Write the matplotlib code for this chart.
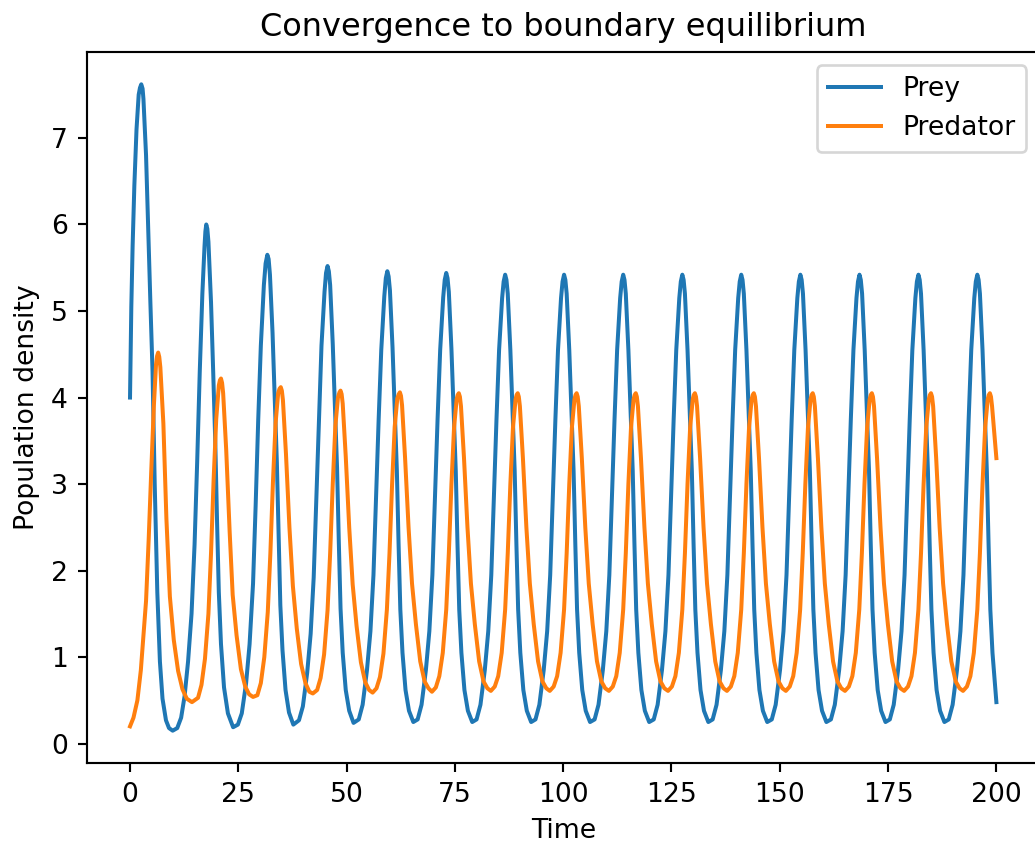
import matplotlib
matplotlib.use("Agg")
import matplotlib.pyplot as plt

# prey curve (time, density), one line per cycle
prey_t = [0.0, 0.3, 0.6, 1.0, 1.5, 2.0, 2.3, 2.6, 2.9, 3.1, 3.7, 4.2, 4.7, 5.2, 5.7, 6.3, 6.9, 7.5, 8.3, 9.0, 9.85,
          10.9, 11.8, 12.6, 13.4, 14.2, 14.9, 15.5, 16.1, 16.7, 17.2, 17.4, 17.6, 17.85, 18.1, 18.7, 19.2, 19.7, 20.1, 20.5, 21.0, 21.7, 22.6, 23.8,
          24.9, 25.8, 26.8, 27.6, 28.4, 29.0, 29.6, 30.2, 30.9, 31.3, 31.7, 32.0, 32.3, 32.9, 33.4, 33.9, 34.3, 34.7, 35.2, 35.9, 36.7, 37.7,
          39.0, 39.9, 40.9, 41.7, 42.4, 43.0, 43.6, 44.2, 44.9, 45.25, 45.6, 45.9, 46.2, 46.8, 47.3, 47.8, 48.2, 48.6, 49.1, 49.8, 50.6, 51.6,
          52.8, 53.7, 54.7, 55.5, 56.2, 56.8, 57.4, 58.0, 58.7, 59.05, 59.4, 59.7, 60.0, 60.6, 61.1, 61.6, 62.0, 62.4, 62.9, 63.6, 64.4, 65.4,
          66.4, 67.3, 68.3, 69.1, 69.8, 70.4, 71.0, 71.6, 72.3, 72.65, 73.0, 73.3, 73.6, 74.2, 74.7, 75.2, 75.6, 76.0, 76.5, 77.2, 78.0, 79.0,
          80.0, 80.9, 81.9, 82.7, 83.4, 84.0, 84.6, 85.2, 85.9, 86.25, 86.6, 86.9, 87.2, 87.8, 88.3, 88.8, 89.2, 89.6, 90.1, 90.8, 91.6, 92.6,
          93.6, 94.5, 95.5, 96.3, 97.0, 97.6, 98.2, 98.8, 99.5, 99.85, 100.2, 100.5, 100.8, 101.4, 101.9, 102.4, 102.8, 103.2, 103.7, 104.4, 105.2, 106.2,
          107.25, 108.15, 109.15, 109.95, 110.65, 111.25, 111.85, 112.45, 113.15, 113.5, 113.85, 114.15, 114.45, 115.05, 115.55, 116.05, 116.45, 116.85, 117.35, 118.05, 118.85, 119.85,
          120.9, 121.8, 122.8, 123.6, 124.3, 124.9, 125.5, 126.1, 126.8, 127.15, 127.5, 127.8, 128.1, 128.7, 129.2, 129.7, 130.1, 130.5, 131.0, 131.7, 132.5, 133.5,
          134.5, 135.4, 136.4, 137.2, 137.9, 138.5, 139.1, 139.7, 140.4, 140.75, 141.1, 141.4, 141.7, 142.3, 142.8, 143.3, 143.7, 144.1, 144.6, 145.3, 146.1, 147.1,
          148.15, 149.05, 150.05, 150.85, 151.55, 152.15, 152.75, 153.35, 154.05, 154.4, 154.75, 155.05, 155.35, 155.95, 156.45, 156.95, 157.35, 157.75, 158.25, 158.95, 159.75, 160.75,
          161.8, 162.7, 163.7, 164.5, 165.2, 165.8, 166.4, 167.0, 167.7, 168.05, 168.4, 168.7, 169.0, 169.6, 170.1, 170.6, 171.0, 171.4, 171.9, 172.6, 173.4, 174.4,
          175.4, 176.3, 177.3, 178.1, 178.8, 179.4, 180.0, 180.6, 181.3, 181.65, 182.0, 182.3, 182.6, 183.2, 183.7, 184.2, 184.6, 185.0, 185.5, 186.2, 187.0, 188.0,
          189.0, 189.9, 190.9, 191.7, 192.4, 193.0, 193.6, 194.2, 194.9, 195.25, 195.6, 195.9, 196.2, 196.8, 197.3, 197.8, 198.2, 198.6, 199.1, 200.0]
prey = [4.0, 5.05, 5.75, 6.45, 7.1, 7.5, 7.58, 7.62, 7.57, 7.45, 6.8, 5.95, 5.1, 4.3, 3.0, 1.75, 0.95, 0.52, 0.27, 0.18, 0.15,
        0.18, 0.3, 0.55, 0.95, 1.5, 2.3, 3.25, 4.3, 5.2, 5.75, 5.92, 6.0, 5.95, 5.8, 5.1, 4.3, 3.45, 2.55, 1.75, 1.15, 0.65, 0.35, 0.19,
        0.22, 0.35, 0.7, 1.15, 1.85, 2.75, 3.75, 4.6, 5.3, 5.55, 5.65, 5.6, 5.42, 4.75, 4.0, 3.25, 2.4, 1.6, 1.08, 0.62, 0.36, 0.22,
        0.27, 0.43, 0.82, 1.27, 1.92, 2.82, 3.75, 4.6, 5.22, 5.44, 5.52, 5.46, 5.3, 4.62, 3.9, 3.18, 2.33, 1.56, 1.05, 0.62, 0.38, 0.24,
        0.28, 0.45, 0.85, 1.3, 1.95, 2.85, 3.75, 4.55, 5.17, 5.38, 5.46, 5.4, 5.24, 4.58, 3.87, 3.16, 2.3, 1.55, 1.05, 0.62, 0.38, 0.25,
        0.28, 0.45, 0.85, 1.3, 1.95, 2.85, 3.75, 4.55, 5.16, 5.36, 5.44, 5.38, 5.22, 4.56, 3.86, 3.15, 2.3, 1.55, 1.05, 0.62, 0.38, 0.25,
        0.28, 0.45, 0.85, 1.3, 1.95, 2.85, 3.75, 4.55, 5.15, 5.34, 5.42, 5.36, 5.2, 4.55, 3.85, 3.15, 2.3, 1.55, 1.05, 0.62, 0.38, 0.25,
        0.28, 0.45, 0.85, 1.3, 1.95, 2.85, 3.75, 4.55, 5.15, 5.34, 5.42, 5.36, 5.2, 4.55, 3.85, 3.15, 2.3, 1.55, 1.05, 0.62, 0.38, 0.25,
        0.28, 0.45, 0.85, 1.3, 1.95, 2.85, 3.75, 4.55, 5.15, 5.34, 5.42, 5.36, 5.2, 4.55, 3.85, 3.15, 2.3, 1.55, 1.05, 0.62, 0.38, 0.25,
        0.28, 0.45, 0.85, 1.3, 1.95, 2.85, 3.75, 4.55, 5.15, 5.34, 5.42, 5.36, 5.2, 4.55, 3.85, 3.15, 2.3, 1.55, 1.05, 0.62, 0.38, 0.25,
        0.28, 0.45, 0.85, 1.3, 1.95, 2.85, 3.75, 4.55, 5.15, 5.34, 5.42, 5.36, 5.2, 4.55, 3.85, 3.15, 2.3, 1.55, 1.05, 0.62, 0.38, 0.25,
        0.28, 0.45, 0.85, 1.3, 1.95, 2.85, 3.75, 4.55, 5.15, 5.34, 5.42, 5.36, 5.2, 4.55, 3.85, 3.15, 2.3, 1.55, 1.05, 0.62, 0.38, 0.25,
        0.28, 0.45, 0.85, 1.3, 1.95, 2.85, 3.75, 4.55, 5.15, 5.34, 5.42, 5.36, 5.2, 4.55, 3.85, 3.15, 2.3, 1.55, 1.05, 0.62, 0.38, 0.25,
        0.28, 0.45, 0.85, 1.3, 1.95, 2.85, 3.75, 4.55, 5.15, 5.34, 5.42, 5.36, 5.2, 4.55, 3.85, 3.15, 2.3, 1.55, 1.05, 0.62, 0.38, 0.25,
        0.28, 0.45, 0.85, 1.3, 1.95, 2.85, 3.75, 4.55, 5.15, 5.34, 5.42, 5.36, 5.2, 4.55, 3.85, 3.15, 2.3, 1.55, 1.05, 0.48]

# predator curve
pred_t = [0.0, 0.8, 1.7, 2.5, 3.1, 3.7, 4.3, 4.9, 5.5, 6.0, 6.25, 6.5, 6.75, 7.0, 7.7, 8.4, 9.2, 10.1, 11.1, 12.1, 13.1, 14.3,
          15.7, 16.5, 17.3, 18.1, 18.7, 19.3, 19.9, 20.5, 20.75, 21.0, 21.25, 21.5, 22.2, 23.0, 23.7, 24.6, 25.6, 26.6, 27.5, 28.4,
          29.4, 30.2, 31.0, 31.8, 32.4, 33.0, 33.6, 34.2, 34.5, 34.8, 35.05, 35.3, 36.0, 36.8, 37.6, 38.5, 39.5, 40.5, 41.4, 42.2,
          43.2, 44.0, 44.8, 45.6, 46.2, 46.8, 47.4, 48.0, 48.35, 48.6, 48.85, 49.1, 49.8, 50.6, 51.4, 52.3, 53.3, 54.3, 55.2, 56.0,
          56.9, 57.7, 58.5, 59.3, 59.9, 60.5, 61.1, 61.7, 62.05, 62.3, 62.55, 62.8, 63.5, 64.3, 65.1, 66.0, 67.0, 68.0, 68.9, 69.7,
          70.6, 71.4, 72.2, 73.0, 73.6, 74.2, 74.8, 75.4, 75.65, 75.9, 76.15, 76.4, 77.1, 77.9, 78.7, 79.6, 80.6, 81.6, 82.5,
          83.3, 84.2, 85.0, 85.8, 86.6, 87.2, 87.8, 88.4, 89.0, 89.25, 89.5, 89.75, 90.0, 90.7, 91.5, 92.3, 93.2, 94.2, 95.2, 96.1,
          96.9, 97.8, 98.6, 99.4, 100.2, 100.8, 101.4, 102.0, 102.6, 102.85, 103.1, 103.35, 103.6, 104.3, 105.1, 105.9, 106.8, 107.8, 108.8, 109.7,
          110.55, 111.45, 112.25, 113.05, 113.85, 114.45, 115.05, 115.65, 116.25, 116.5, 116.75, 117.0, 117.25, 117.95, 118.75, 119.55, 120.45, 121.45, 122.45, 123.35,
          124.2, 125.1, 125.9, 126.7, 127.5, 128.1, 128.7, 129.3, 129.9, 130.15, 130.4, 130.65, 130.9, 131.6, 132.4, 133.2, 134.1, 135.1, 136.1, 137.0,
          137.8, 138.7, 139.5, 140.3, 141.1, 141.7, 142.3, 142.9, 143.5, 143.75, 144.0, 144.25, 144.5, 145.2, 146.0, 146.8, 147.7, 148.7, 149.7, 150.6,
          151.4, 152.3, 153.1, 153.9, 154.7, 155.3, 155.9, 156.5, 157.1, 157.35, 157.6, 157.85, 158.1, 158.8, 159.6, 160.4, 161.3, 162.3, 163.3, 164.2,
          165.05, 165.95, 166.75, 167.55, 168.35, 168.95, 169.55, 170.15, 170.75, 171.0, 171.25, 171.5, 171.75, 172.45, 173.25, 174.05, 174.95, 175.95, 176.95, 177.85,
          178.7, 179.6, 180.4, 181.2, 182.0, 182.6, 183.2, 183.8, 184.4, 184.65, 184.9, 185.15, 185.4, 186.1, 186.9, 187.7, 188.6, 189.6, 190.6, 191.5,
          192.3, 193.2, 194.0, 194.8, 195.6, 196.2, 196.8, 197.4, 198.0, 198.25, 198.5, 198.75, 199.0, 200.0]
pred = [0.2, 0.3, 0.5, 0.85, 1.25, 1.65, 2.35, 3.15, 3.9, 4.38, 4.48, 4.52, 4.47, 4.35, 3.7, 2.6, 1.7, 1.2, 0.84, 0.63, 0.52, 0.48,
        0.53, 0.68, 0.98, 1.5, 2.2, 3.05, 3.75, 4.14, 4.2, 4.22, 4.17, 4.05, 3.4, 2.45, 1.72, 1.25, 0.86, 0.66, 0.57, 0.54,
        0.56, 0.7, 1.0, 1.52, 2.2, 3.03, 3.7, 4.05, 4.1, 4.12, 4.08, 3.97, 3.35, 2.5, 1.82, 1.33, 0.92, 0.7, 0.6, 0.58,
        0.62, 0.76, 1.03, 1.54, 2.2, 3.0, 3.67, 4.0, 4.06, 4.08, 4.04, 3.93, 3.32, 2.5, 1.84, 1.36, 0.94, 0.71, 0.62, 0.59,
        0.64, 0.77, 1.04, 1.55, 2.2, 3.0, 3.66, 3.99, 4.04, 4.06, 4.02, 3.91, 3.3, 2.5, 1.85, 1.38, 0.95, 0.72, 0.64, 0.6,
        0.65, 0.78, 1.05, 1.55, 2.2, 3.0, 3.65, 3.98, 4.03, 4.05, 4.01, 3.9, 3.3, 2.5, 1.85, 1.38, 0.95, 0.72, 0.64,
        0.61, 0.66, 0.78, 1.05, 1.55, 2.2, 3.0, 3.65, 3.98, 4.03, 4.05, 4.01, 3.9, 3.3, 2.5, 1.85, 1.38, 0.95, 0.72, 0.64,
        0.61, 0.66, 0.78, 1.05, 1.55, 2.2, 3.0, 3.65, 3.98, 4.03, 4.05, 4.01, 3.9, 3.3, 2.5, 1.85, 1.38, 0.95, 0.72, 0.64,
        0.61, 0.66, 0.78, 1.05, 1.55, 2.2, 3.0, 3.65, 3.98, 4.03, 4.05, 4.01, 3.9, 3.3, 2.5, 1.85, 1.38, 0.95, 0.72, 0.64,
        0.61, 0.66, 0.78, 1.05, 1.55, 2.2, 3.0, 3.65, 3.98, 4.03, 4.05, 4.01, 3.9, 3.3, 2.5, 1.85, 1.38, 0.95, 0.72, 0.64,
        0.61, 0.66, 0.78, 1.05, 1.55, 2.2, 3.0, 3.65, 3.98, 4.03, 4.05, 4.01, 3.9, 3.3, 2.5, 1.85, 1.38, 0.95, 0.72, 0.64,
        0.61, 0.66, 0.78, 1.05, 1.55, 2.2, 3.0, 3.65, 3.98, 4.03, 4.05, 4.01, 3.9, 3.3, 2.5, 1.85, 1.38, 0.95, 0.72, 0.64,
        0.61, 0.66, 0.78, 1.05, 1.55, 2.2, 3.0, 3.65, 3.98, 4.03, 4.05, 4.01, 3.9, 3.3, 2.5, 1.85, 1.38, 0.95, 0.72, 0.64,
        0.61, 0.66, 0.78, 1.05, 1.55, 2.2, 3.0, 3.65, 3.98, 4.03, 4.05, 4.01, 3.9, 3.3, 2.5, 1.85, 1.38, 0.95, 0.72, 0.64,
        0.61, 0.66, 0.78, 1.05, 1.55, 2.2, 3.0, 3.65, 3.98, 4.03, 4.05, 4.01, 3.9, 3.3]

dpi = 192
fig = plt.figure(figsize=(1035 / dpi, 844 / dpi), dpi=dpi)
# the reference is cut off just inside the right spine
ax = fig.add_axes([86.7 / 1035, 81 / 844, 953 / 1035, 711 / 844])

ax.plot(prey_t, prey, label='Prey')
ax.plot(pred_t, pred, label='Predator')
ax.set_xlabel('Time')
ax.set_ylabel('Population density')
ax.set_title('Convergence to boundary equilibrium')
ax.legend(loc='upper right')

fig.savefig('out.png', dpi=dpi)
